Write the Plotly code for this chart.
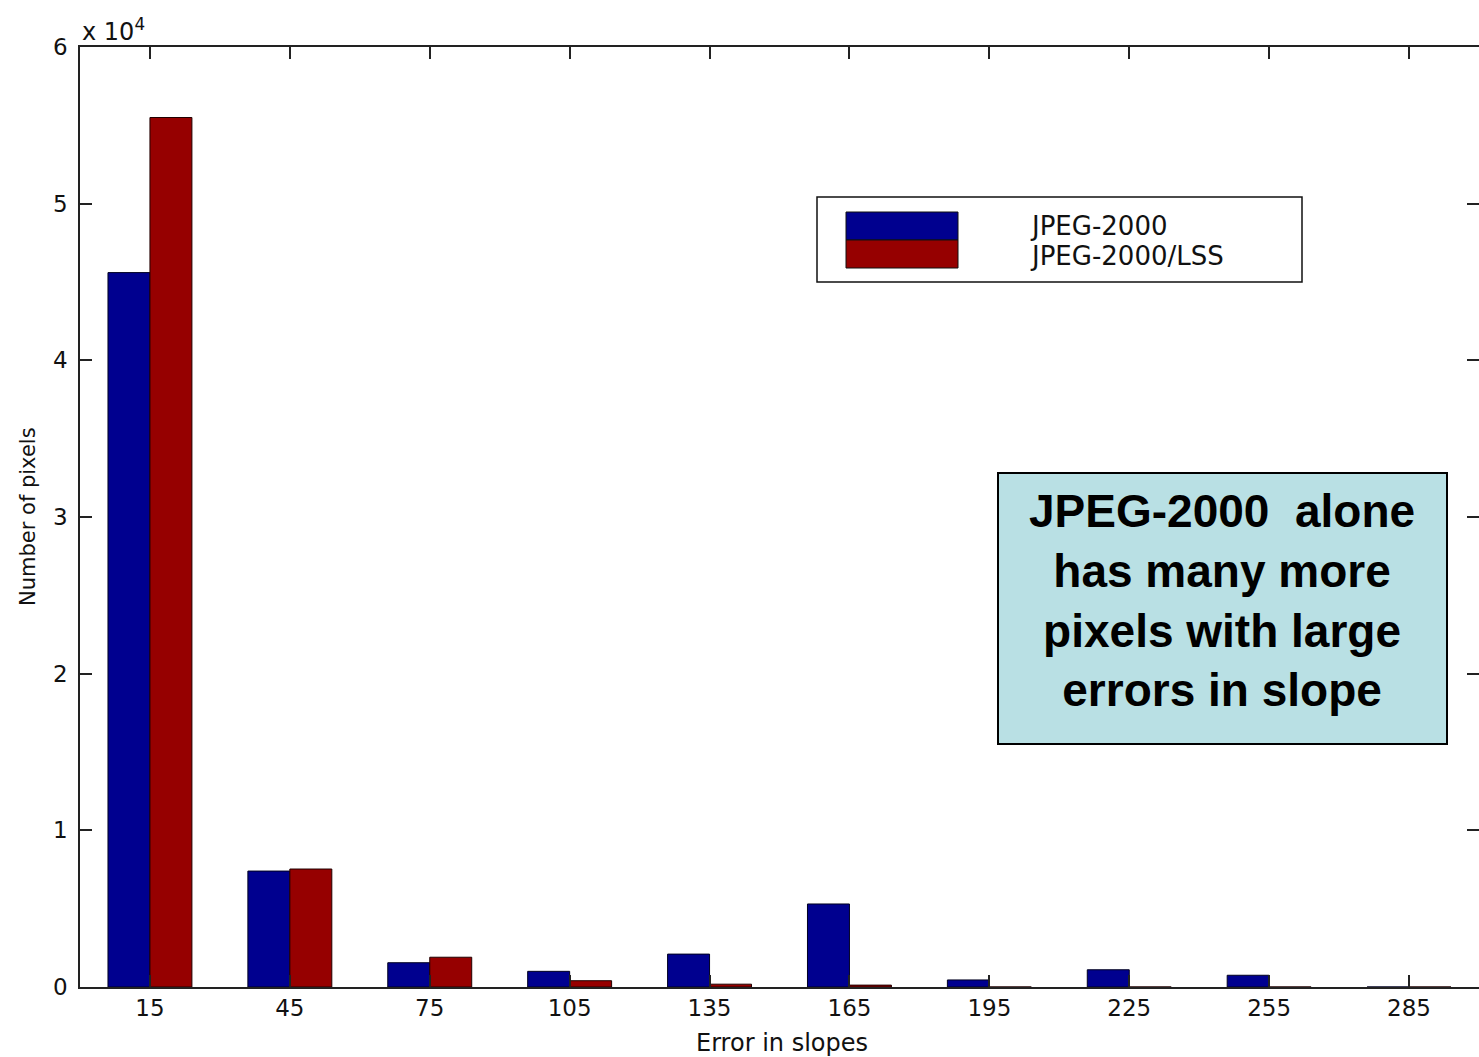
import plotly.graph_objects as go

# ---- data ----
categories = [15, 45, 75, 105, 135, 165, 195, 225, 255, 285]
jpeg2000 = [45600, 7400, 1550, 1000, 2100, 5300, 450, 1100, 750, 0]
jpeg2000_lss = [55500, 7530, 1900, 400, 180, 120, 0, 0, 0, 0]
y_tickvals = [0, 10000, 20000, 30000, 40000, 50000, 60000]
y_ticktext = ["0", "1", "2", "3", "4", "5", "6"]
series_names = ["JPEG-2000", "JPEG-2000/LSS"]
note_lines = ["JPEG-2000  alone", "has many more", "pixels with large", "errors in slope"]

BLUE = "#00008f"
RED = "#960000"
W, H = 1479, 1057
ML, MT, MB = 80, 47, 70
PW = W - ML
PH = H - MT - MB


def px(x):
    return (x - ML) / PW


def py(y):
    return (H - MB - y) / PH


fig = go.Figure()
fig.add_trace(go.Bar(x=categories, y=jpeg2000, name=series_names[0],
                     marker=dict(color=BLUE, line=dict(color="#000020", width=1))))
fig.add_trace(go.Bar(x=categories, y=jpeg2000_lss, name=series_names[1],
                     marker=dict(color=RED, line=dict(color="#200000", width=1))))
fig.add_trace(go.Scatter(x=[None], y=[None], yaxis="y2", showlegend=False, hoverinfo="skip"))

tickfont = dict(family="DejaVu Sans", size=23, color="#111")

fig.update_layout(
    width=W, height=H,
    margin=dict(l=ML, r=0, t=MT, b=MB, autoexpand=False),
    paper_bgcolor="white", plot_bgcolor="white",
    barmode="group", bargap=0.4, bargroupgap=0,
    showlegend=False,
    xaxis=dict(range=[0, 300], tickvals=categories, ticktext=[str(c) for c in categories],
               ticks="inside", ticklen=12, tickwidth=1.5, tickcolor="#222",
               showline=True, linecolor="#222", linewidth=1.5, mirror="ticks",
               showgrid=False, zeroline=False, tickfont=tickfont),
    yaxis=dict(range=[0, 60000], tickvals=y_tickvals, ticktext=y_ticktext,
               ticks="inside", ticklen=12, tickwidth=1.5, tickcolor="#222",
               showline=True, linecolor="#222", linewidth=1.5,
               showgrid=False, zeroline=False, tickfont=tickfont, ticklabelstandoff=6),
    yaxis2=dict(range=[0, 60000], overlaying="y", side="right", tickvals=y_tickvals,
                ticks="inside", ticklen=12, tickwidth=1.5, tickcolor="#222",
                showticklabels=False, showline=False, showgrid=False, zeroline=False),
)

shapes = []
# legend box
shapes.append(dict(type="rect", xref="paper", yref="paper",
                   x0=px(817), x1=px(1302), y0=py(282), y1=py(197),
                   line=dict(color="#111", width=1.5), fillcolor="white"))
shapes.append(dict(type="rect", xref="paper", yref="paper",
                   x0=px(846), x1=px(958), y0=py(240), y1=py(212),
                   line=dict(color="#111", width=1), fillcolor=BLUE))
shapes.append(dict(type="rect", xref="paper", yref="paper",
                   x0=px(846), x1=px(958), y0=py(268), y1=py(240),
                   line=dict(color="#111", width=1), fillcolor=RED))
# note box
shapes.append(dict(type="rect", xref="paper", yref="paper",
                   x0=px(998), x1=px(1447), y0=py(744), y1=py(473),
                   line=dict(color="black", width=2), fillcolor="#b9e0e4"))
fig.update_layout(shapes=shapes)

ann = []
ann.append(dict(text=series_names[0], xref="paper", yref="paper", x=px(1028), y=py(226),
                xanchor="left", yanchor="middle", showarrow=False,
                font=dict(family="DejaVu Sans", size=26, color="#111")))
ann.append(dict(text=series_names[1], xref="paper", yref="paper", x=px(1028), y=py(256),
                xanchor="left", yanchor="middle", showarrow=False,
                font=dict(family="DejaVu Sans", size=26, color="#111")))
ann.append(dict(text="<br>".join(note_lines), xref="paper", yref="paper",
                x=px(1222), y=py(600), xanchor="center", yanchor="middle", align="center",
                showarrow=False,
                font=dict(family="Liberation Sans, Arial", size=46, color="black", weight="bold")))
ann.append(dict(text="x 10<sup>4</sup>", xref="paper", yref="paper", x=px(80), y=py(30),
                xanchor="left", yanchor="middle", showarrow=False,
                font=dict(family="DejaVu Sans", size=24, color="#111")))
ann.append(dict(text="Error in slopes", xref="paper", yref="paper", x=px(782), y=py(1043),
                xanchor="center", yanchor="middle", showarrow=False,
                font=dict(family="DejaVu Sans", size=24, color="#111")))
ann.append(dict(text="Number of pixels", xref="paper", yref="paper", x=px(28), y=py(517),
                xanchor="center", yanchor="middle", showarrow=False, textangle=-90,
                font=dict(family="DejaVu Sans", size=21, color="#111")))
fig.update_layout(annotations=ann)

fig.write_html("out.html")
